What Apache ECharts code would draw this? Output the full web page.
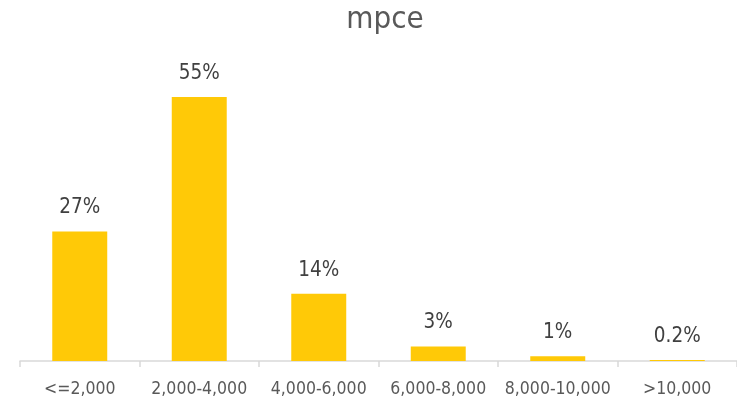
<!DOCTYPE html>
<html>
<head>
<meta charset="utf-8">
<script src="https://cdn.jsdelivr.net/npm/echarts@6/dist/echarts.min.js"></script>
<style>
  html, body { margin: 0; padding: 0; background: #fff; }
  #chart { width: 737px; height: 402px; }
</style>
</head>
<body>
<div id="chart"></div>
<script>
// MPCE bands and share of households in each (percent)
const categories = ['<=2,000', '2,000-4,000', '4,000-6,000', '6,000-8,000', '8,000-10,000', '>10,000'];
const shares = [27, 55, 14, 3, 1, 0.2];
const chartTitle = 'mpce';

const font = "'DejaVu Sans Condensed', 'Liberation Sans Narrow', sans-serif";
const chart = echarts.init(document.getElementById('chart'));
chart.setOption({
  animation: false,
  title: {
    text: chartTitle,
    left: 380,
    top: -1,
    textAlign: 'center',
    textStyle: { fontFamily: font, fontSize: 31, fontWeight: 'normal', color: '#595959' }
  },
  grid: { left: 20, width: 726, top: 73, bottom: 41 },
  xAxis: {
    type: 'category',
    data: categories,
    axisLine: { lineStyle: { color: '#d9d9d9', width: 1.5 } },
    axisTick: { show: true, alignWithLabel: false, length: 6, lineStyle: { color: '#d9d9d9', width: 1.5 } },
    axisLabel: { fontFamily: font, fontSize: 17.5, color: '#595959', margin: 19, interval: 0 }
  },
  yAxis: {
    type: 'value',
    min: 0,
    max: 60,
    show: false,
    splitLine: { show: false }
  },
  series: [{
    type: 'bar',
    data: shares,
    barWidth: '46%',
    itemStyle: { color: '#FFC907' },
    label: {
      show: true,
      position: 'top',
      distance: 13,
      formatter: p => p.value + '%',
      fontFamily: font,
      fontSize: 20.5,
      color: '#404040'
    }
  }]
});
</script>
</body>
</html>
